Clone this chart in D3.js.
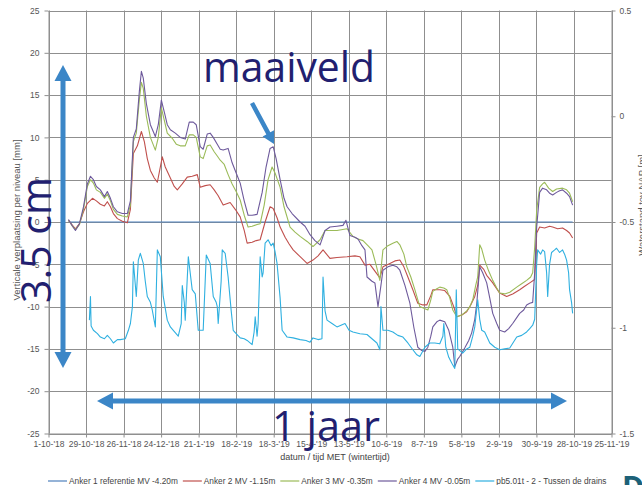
<!DOCTYPE html>
<html>
<head>
<meta charset="utf-8">
<script src="https://cdn.jsdelivr.net/npm/d3@7"></script>
<style>
  html, body { margin: 0; padding: 0; background: #fff; }
  svg { display: block; }
</style>
</head>
<body>
<svg id="chart" width="642" height="485"></svg>
<script>
// Zakbaak-metingen: verticale verplaatsing per anker [mm] en grondwaterstand [m NAP].
// Tijd wordt opgegeven als dagen sinds 1 oktober 2018.
const START_DATE = "2018-10-01";

const tickDates = ["2018-10-01", "2018-10-29", "2018-11-26", "2018-12-24", "2019-01-21",
  "2019-02-18", "2019-03-18", "2019-04-15", "2019-05-13", "2019-06-10", "2019-07-08",
  "2019-08-05", "2019-09-02", "2019-09-30", "2019-10-28", "2019-11-25"];
const leftTicks = [-25, -20, -15, -10, -5, 0, 5, 10, 15, 20, 25];
const rightTicks = [-1.5, -1, -0.5, 0, 0.5];

const seriesNames = ["Anker 1 referentie MV -4.20m", "Anker 2 MV -1.15m", "Anker 3 MV -0.35m",
  "Anker 4 MV -0.05m", "pb5.01t - 2 - Tussen de drains"];

// Anker 1 is het referentieanker
const anker1 = [[14.9, 0], [391.0, 0]];

const anker2 = [[14.9,0.2],[17.9,-0.4],[20.1,-0.8],[23.1,-0.2],[26.1,1.2],[29.0,2.2],[32.8,2.8],[35.7,2.5],[38.7,2.1],[41.7,1.9],[43.9,2.4],[46.2,1.8],[48.4,1.0],[51.4,0.4],[55.1,0.1],[58.8,-0.1],[61.1,1.5],[63.3,8.1],[66.3,9.0],[69.3,10.7],[71.5,9.5],[73.7,7.5],[76.0,6.1],[78.9,5.2],[81.2,4.7],[84.9,7.7],[87.1,6.5],[90.9,5.2],[93.8,4.2],[96.1,3.8],[99.8,4.5],[103.5,5.3],[107.2,5.4],[111.0,5.6],[113.2,4.1],[116.9,4.3],[120.6,4.4],[123.6,3.8],[126.6,3.1],[130.3,2.0],[135.5,2.3],[139.3,1.5],[143.0,0.6],[146.0,-1.0],[148.2,-2.5],[151.9,-2.4],[154.9,-2.2],[157.9,-2.1],[161.6,0.0],[165.3,1.8],[167.6,1.6],[170.5,0.5],[172.8,-0.6],[176.5,-1.8],[179.5,-2.6],[182.5,-3.3],[187.7,-4.1],[192.9,-4.9],[197.3,-4.5],[201.1,-4.0],[204.8,-3.3],[210.0,-4.3],[215.2,-4.2],[222.7,-4.1],[228.6,-4.0],[232.3,-4.1],[236.1,-5.1],[239.8,-5.0],[243.5,-5.8],[247.2,-6.6],[249.5,-5.3],[254.7,-4.9],[258.4,-4.6],[262.1,-4.5],[265.1,-5.3],[268.1,-6.5],[271.8,-8.0],[275.5,-9.6],[279.3,-9.8],[282.2,-9.8],[285.2,-8.7],[286.7,-8.0],[291.9,-8.0],[295.6,-8.1],[299.4,-8.8],[302.3,-10.0],[304.6,-11.2],[308.3,-11.0],[312.0,-10.6],[315.0,-9.8],[318.0,-8.8],[320.2,-7.5],[321.7,-5.1],[324.7,-5.6],[326.9,-6.3],[331.4,-7.2],[336.6,-8.4],[341.8,-8.8],[346.3,-8.5],[351.5,-8.0],[355.2,-7.6],[359.0,-7.2],[362.7,-6.8],[364.2,-1.3],[366.4,-0.6],[370.1,-0.7],[373.8,-0.5],[376.1,-0.6],[379.8,-0.8],[383.5,-0.7],[386.5,-1.0],[388.7,-1.3],[391.0,-1.9]];

const anker3 = [[14.9,0.2],[17.9,-0.5],[20.1,-0.9],[23.1,-0.3],[26.1,1.5],[29.0,4.2],[31.3,5.0],[33.5,4.6],[35.7,3.8],[38.7,3.5],[41.7,2.8],[43.9,3.3],[46.2,2.5],[48.4,1.5],[51.4,0.9],[55.1,0.7],[58.8,0.6],[61.1,2.0],[63.3,9.5],[65.5,10.5],[67.8,14.5],[69.3,16.5],[70.7,15.8],[73.0,12.5],[76.0,10.0],[79.7,8.5],[81.9,10.0],[84.2,13.5],[86.4,12.0],[88.6,10.5],[92.3,9.9],[95.3,9.2],[98.3,9.0],[102.0,9.0],[105.0,10.3],[108.0,10.3],[110.2,10.0],[113.2,7.7],[115.4,7.5],[118.4,9.0],[120.6,9.1],[123.6,8.3],[125.9,7.8],[128.1,7.3],[131.1,6.8],[134.0,5.6],[137.0,4.5],[140.0,3.6],[143.0,2.6],[146.0,0.8],[148.9,-0.6],[151.9,-0.5],[155.6,-0.3],[157.9,-0.2],[160.9,2.0],[163.8,5.0],[166.8,6.5],[169.0,5.8],[172.8,4.1],[175.7,1.8],[180.2,-0.6],[183.9,-1.2],[187.7,-1.7],[192.9,-2.3],[197.3,-2.9],[202.6,-2.1],[206.3,-1.0],[210.0,-1.0],[215.2,-1.0],[222.7,-0.8],[227.1,-1.7],[230.9,-2.0],[234.6,-2.2],[238.3,-2.8],[241.3,-3.3],[244.3,-5.0],[247.2,-6.9],[249.5,-3.3],[253.2,-2.8],[256.9,-2.5],[259.9,-2.3],[262.1,-2.7],[265.1,-3.8],[267.3,-5.3],[270.3,-6.5],[273.3,-8.0],[277.0,-10.0],[280.0,-10.2],[283.0,-10.4],[285.2,-9.2],[286.7,-8.2],[289.7,-7.9],[291.9,-7.7],[294.9,-7.8],[297.1,-8.0],[299.4,-9.0],[301.6,-10.4],[304.6,-11.2],[308.3,-11.0],[312.0,-10.5],[314.3,-10.0],[316.5,-9.2],[318.7,-7.5],[320.2,-6.5],[321.7,-2.7],[323.2,-3.2],[325.4,-4.5],[328.4,-5.8],[331.4,-6.9],[334.4,-7.8],[336.6,-8.4],[340.3,-8.5],[344.1,-8.3],[349.3,-7.7],[353.0,-7.3],[356.7,-6.9],[359.7,-6.5],[361.2,-6.0],[362.7,-3.0],[364.2,1.4],[366.4,4.1],[368.6,4.5],[370.1,4.7],[373.1,4.0],[376.1,3.6],[379.0,3.9],[383.5,4.0],[386.5,3.8],[388.7,3.4],[391.0,2.4]];

const anker4 = [[14.9,0.3],[17.9,-0.5],[20.1,-1.0],[23.1,-0.2],[26.1,1.8],[29.0,4.5],[31.3,5.4],[33.5,5.0],[35.7,4.2],[38.7,3.8],[41.7,3.0],[43.9,3.6],[46.2,2.8],[48.4,1.8],[51.4,1.2],[55.1,1.0],[58.8,1.0],[61.1,2.5],[63.3,10.0],[65.5,11.0],[67.8,15.5],[69.3,17.8],[70.7,17.0],[73.0,14.0],[76.0,11.5],[79.7,10.1],[81.9,11.5],[84.2,14.4],[86.4,13.0],[88.6,11.5],[90.9,10.9],[94.6,10.5],[98.3,10.0],[102.0,9.8],[105.0,11.8],[108.0,11.8],[110.2,11.5],[113.2,8.9],[115.4,8.6],[118.4,10.4],[120.6,10.5],[122.9,10.0],[125.9,9.2],[128.1,8.6],[130.3,8.5],[134.0,8.7],[137.0,7.0],[140.0,5.8],[143.0,4.6],[146.0,2.5],[148.9,0.8],[151.9,0.8],[155.6,0.9],[159.4,3.5],[162.3,6.5],[165.3,8.7],[167.6,8.9],[169.8,7.5],[172.8,5.0],[175.7,2.8],[178.0,1.8],[181.7,1.0],[187.7,0.0],[191.4,-0.5],[195.1,-1.5],[198.8,-2.2],[202.6,-2.7],[206.3,-1.0],[210.0,-0.6],[215.2,-0.5],[219.7,-0.4],[221.9,0.2],[224.9,-1.6],[228.6,-1.8],[230.9,-2.0],[233.8,-2.8],[236.1,-3.3],[237.6,-6.5],[241.3,-7.0],[243.5,-7.2],[245.8,-10.0],[248.0,-7.5],[249.5,-5.7],[253.2,-5.3],[256.9,-5.1],[259.9,-5.3],[262.1,-5.7],[265.9,-7.5],[269.6,-9.6],[272.6,-12.5],[275.5,-14.8],[278.5,-15.2],[280.8,-15.3],[283.0,-14.8],[285.2,-13.5],[286.7,-12.4],[289.7,-11.8],[291.9,-11.6],[295.6,-11.8],[298.6,-12.8],[301.6,-14.8],[303.1,-17.1],[305.3,-16.2],[306.8,-15.9],[310.5,-14.9],[313.5,-14.0],[315.7,-13.1],[318.0,-11.5],[319.5,-9.6],[321.7,-5.3],[323.9,-6.0],[326.9,-7.2],[329.2,-9.0],[331.4,-10.8],[334.4,-12.0],[336.6,-12.8],[340.3,-13.0],[343.3,-12.6],[346.3,-12.0],[349.3,-11.3],[351.5,-10.8],[354.5,-10.4],[356.7,-9.8],[359.0,-9.6],[361.2,-9.5],[362.7,-6.0],[364.2,-0.6],[366.4,3.5],[368.6,4.0],[371.6,3.8],[373.8,3.4],[376.1,3.2],[379.0,3.5],[381.3,3.7],[383.5,3.8],[386.5,3.4],[388.7,3.0],[391.0,2.0]];

// Peilbuis pb5.01t, waterstand in m t.o.v. NAP (rechteras)
const pb5 = [[30.5,-0.964],[31.3,-0.852],[31.8,-0.992],[33.5,-1.012],[36.5,-1.028],[38.7,-1.044],[41.7,-1.052],[43.9,-1.036],[46.2,-1.052],[48.4,-1.072],[51.4,-1.056],[53.6,-1.056],[57.3,-1.052],[59.6,-1.012],[61.1,-0.98],[62.6,-0.90],[63.3,-0.688],[65.5,-0.852],[67.0,-0.68],[68.5,-0.648],[70.7,-0.696],[72.2,-0.78],[73.7,-0.852],[76.0,-0.88],[77.4,-0.916],[79.7,-0.996],[81.2,-0.632],[83.4,-0.664],[85.6,-0.852],[88.6,-0.964],[90.9,-0.996],[93.1,-1.012],[96.8,-1.04],[99.0,-0.98],[99.8,-0.80],[101.3,-0.88],[102.0,-0.964],[104.3,-0.664],[105.7,-0.74],[107.2,-0.82],[109.5,-0.84],[111.7,-1.012],[115.4,-1.012],[117.7,-0.656],[120.6,-0.696],[122.9,-0.852],[125.1,-0.88],[125.9,-0.90],[126.6,-0.98],[128.8,-0.78],[129.6,-0.632],[131.8,-0.648],[134.0,-0.76],[136.3,-0.92],[137.8,-1.012],[140.0,-1.028],[143.0,-1.048],[146.0,-1.052],[148.2,-1.06],[151.9,-1.08],[153.4,-1.02],[154.2,-0.948],[155.6,-1.04],[156.4,-0.98],[157.9,-0.664],[159.4,-0.76],[160.1,-0.74],[161.6,-0.60],[163.8,-0.584],[166.1,-0.612],[167.6,-0.60],[169.0,-0.64],[170.5,-0.696],[172.8,-0.86],[174.3,-1.012],[178.0,-1.044],[182.5,-1.048],[187.7,-1.056],[192.1,-1.06],[195.1,-1.068],[197.3,-1.048],[201.1,-1.056],[204.0,-1.052],[204.8,-0.76],[206.3,-0.92],[207.8,-0.964],[211.5,-0.98],[215.2,-0.996],[218.2,-0.988],[221.2,-0.98],[224.2,-1.012],[227.1,-1.02],[232.3,-1.028],[237.6,-1.032],[241.3,-1.052],[245.0,-1.072],[247.2,-1.104],[248.0,-0.90],[249.5,-1.012],[253.2,-1.012],[256.9,-1.02],[260.6,-1.036],[264.4,-1.044],[268.1,-1.072],[271.8,-1.104],[274.8,-1.128],[277.0,-1.136],[280.8,-1.092],[284.5,-1.072],[288.2,-1.072],[291.9,-1.076],[294.2,-1.04],[294.9,-0.98],[296.4,-1.092],[298.6,-1.14],[300.9,-1.168],[303.1,-1.192],[304.2,-0.82],[305.3,-1.10],[309.0,-1.12],[312.0,-1.10],[314.3,-1.092],[316.5,-1.04],[318.0,-0.996],[320.2,-0.868],[321.7,-0.96],[323.2,-1.012],[325.4,-1.02],[329.2,-1.072],[332.9,-1.092],[336.6,-1.104],[340.3,-1.10],[344.1,-1.096],[349.3,-1.044],[353.0,-1.036],[356.7,-1.02],[359.0,-1.004],[361.2,-0.988],[362.7,-0.96],[364.2,-0.696],[364.9,-0.632],[367.1,-0.652],[368.6,-0.632],[370.1,-0.64],[371.6,-0.74],[372.4,-0.852],[373.8,-0.70],[375.3,-0.644],[377.6,-0.632],[379.0,-0.624],[381.3,-0.644],[383.5,-0.632],[385.0,-0.652],[386.5,-0.68],[388.0,-0.74],[388.7,-0.82],[390.2,-0.88],[391.0,-0.932]];

const colors = ["#4f81bd", "#c0504d", "#9bbb59", "#6e5a9c", "#2fb0e0"];

// ---- layout ----
const svg = d3.select("#chart");
const plot = { left: 48.5, right: 611.5, top: 10.5, bottom: 433.5 };
const parse = d3.utcParse("%Y-%m-%d");
const base = parse(START_DATE);
const toDate = d => new Date(base.getTime() + d * 864e5);

const x = d3.scaleUtc()
  .domain([parse(tickDates[0]), parse(tickDates[tickDates.length - 1])])
  .range([plot.left, plot.right]);
const yL = d3.scaleLinear().domain([-25, 25]).range([plot.bottom, plot.top]);
const yR = d3.scaleLinear().domain([-1.5, 0.5]).range([plot.bottom, plot.top]);

const gridColor = "#8f8f8f";
const textColor = "#555";
const tickFont = "'Liberation Sans', Arial, sans-serif";

// gridlines
const grid = svg.append("g");
grid.selectAll("line.v").data(tickDates.map(parse)).join("line")
  .attr("x1", d => Math.round(x(d)) + 0.5).attr("x2", d => Math.round(x(d)) + 0.5)
  .attr("y1", plot.top).attr("y2", plot.bottom)
  .attr("stroke", gridColor).attr("stroke-width", 1);
grid.selectAll("line.h").data(leftTicks).join("line")
  .attr("x1", plot.left).attr("x2", plot.right)
  .attr("y1", d => Math.round(yL(d)) + 0.5).attr("y2", d => Math.round(yL(d)) + 0.5)
  .attr("stroke", gridColor).attr("stroke-width", 1);

// axes
function styleAxis(g) {
  g.select(".domain").attr("stroke", gridColor);
  g.selectAll(".tick line").attr("stroke", gridColor);
  g.selectAll(".tick text").attr("fill", textColor)
    .style("font-family", tickFont).style("font-size", "8.5px");
}
const fmtDate = d3.utcFormat("%-d-%-m-'%y");
svg.append("g").attr("transform", `translate(0,${plot.bottom})`)
  .call(d3.axisBottom(x).tickValues(tickDates.map(parse)).tickFormat(fmtDate)
    .tickSize(4).tickPadding(3).tickSizeOuter(0))
  .call(styleAxis);
svg.append("g").attr("transform", `translate(${plot.left},0)`)
  .call(d3.axisLeft(yL).tickValues(leftTicks).tickFormat(d => String(d))
    .tickSize(4).tickPadding(5).tickSizeOuter(0))
  .call(styleAxis);
svg.append("g").attr("transform", `translate(${plot.right},0)`)
  .call(d3.axisRight(yR).tickValues(rightTicks).tickFormat(d => String(d))
    .tickSize(4).tickPadding(4).tickSizeOuter(0))
  .call(styleAxis);

// axis titles
svg.append("text").attr("transform", "translate(20,220) rotate(-90)")
  .attr("text-anchor", "middle").attr("fill", textColor)
  .style("font-family", tickFont).style("font-size", "9.5px")
  .text("Verticale verplaatsing per niveau [mm]");
svg.append("text").attr("transform", "translate(645,205) rotate(-90)")
  .attr("text-anchor", "middle").attr("fill", textColor)
  .style("font-family", tickFont).style("font-size", "9.5px")
  .text("Waterstand tov NAP [m]");
svg.append("text").attr("x", 335).attr("y", 460)
  .attr("text-anchor", "middle").attr("fill", "#444")
  .style("font-family", tickFont).style("font-size", "9px")
  .text("datum / tijd MET (wintertijd)");

// series
const lineL = d3.line().x(d => x(toDate(d[0]))).y(d => yL(d[1]));
const lineR = d3.line().x(d => x(toDate(d[0]))).y(d => yR(d[1]));
const series = [
  { data: anker1, line: lineL },
  { data: anker2, line: lineL },
  { data: anker3, line: lineL },
  { data: anker4, line: lineL },
  { data: pb5, line: lineR }
];
svg.append("g").selectAll("path").data(series).join("path")
  .attr("d", d => d.line(d.data))
  .attr("fill", "none")
  .attr("stroke", (d, i) => colors[i])
  .attr("stroke-width", (d, i) => i === 0 ? 1.2 : 1.1)
  .attr("stroke-linejoin", "round");

// legend
const legend = svg.append("g").attr("transform", "translate(48,481)");
let lx = 0;
seriesNames.forEach((name, i) => {
  legend.append("line").attr("x1", lx).attr("x2", lx + 19).attr("y1", 0).attr("y2", 0)
    .attr("stroke", colors[i]).attr("stroke-width", 1.2);
  const t = legend.append("text").attr("x", lx + 21).attr("y", 3)
    .attr("fill", "#444").style("font-family", tickFont).style("font-size", "8.3px")
    .text(name);
  lx += 21 + t.node().getComputedTextLength() + 5;
});

// logo letter
svg.append("text").attr("x", 622).attr("y", 498)
  .attr("fill", "#1c6178").style("font-family", "'Open Sans', sans-serif")
  .style("font-weight", "700").style("font-size", "30px").text("D");

// annotations
const navy = "#221f70";
const annFont = "'Open Sans', sans-serif";
const arrowBlue = "#3b86c7";

function arrowShape(x1, y1, x2, y2, shaft, headW, headL, both) {
  const dx = x2 - x1, dy = y2 - y1, len = Math.hypot(dx, dy);
  const ux = dx / len, uy = dy / len, nx = -uy, ny = ux;
  const p = (t, s) => [x1 + ux * t + nx * s, y1 + uy * t + ny * s];
  const a = both ? headL : 0, b = len - headL;
  const pts = [];
  if (both) { pts.push(p(0, 0), p(a, headW / 2)); }
  pts.push(p(a, shaft / 2), p(b, shaft / 2), p(b, headW / 2), p(len, 0),
           p(b, -headW / 2), p(b, -shaft / 2), p(a, -shaft / 2));
  if (both) pts.push(p(a, -headW / 2)); else pts.unshift(p(0, 0));
  if (!both) pts.shift();
  return "M" + pts.map(q => q.join(",")).join("L") + "Z";
}

svg.append("path").attr("d", arrowShape(63, 368, 63, 65, 5, 17, 16, true)).attr("fill", arrowBlue);
svg.append("path").attr("d", arrowShape(97, 401, 567, 401, 5, 17, 16, true)).attr("fill", arrowBlue);
svg.append("path").attr("d", arrowShape(252, 103, 274, 144, 4.5, 13, 12, false)).attr("fill", arrowBlue);

svg.append("text").attr("x", 203).attr("y", 82)
  .attr("fill", navy).style("font-family", annFont).style("font-size", "42px")
  .attr("textLength", 172).attr("lengthAdjust", "spacingAndGlyphs").text("maaiveld");
svg.append("text").attr("transform", "translate(51,240) rotate(-90)")
  .attr("text-anchor", "middle")
  .attr("fill", navy).style("font-family", annFont).style("font-size", "42px")
  .attr("textLength", 126).attr("lengthAdjust", "spacingAndGlyphs").text("3.5 cm");
svg.append("text").attr("x", 272).attr("y", 441)
  .attr("fill", navy).style("font-family", annFont).style("font-size", "42px")
  .attr("textLength", 108).attr("lengthAdjust", "spacingAndGlyphs").text("1 jaar");
</script>
</body>
</html>
